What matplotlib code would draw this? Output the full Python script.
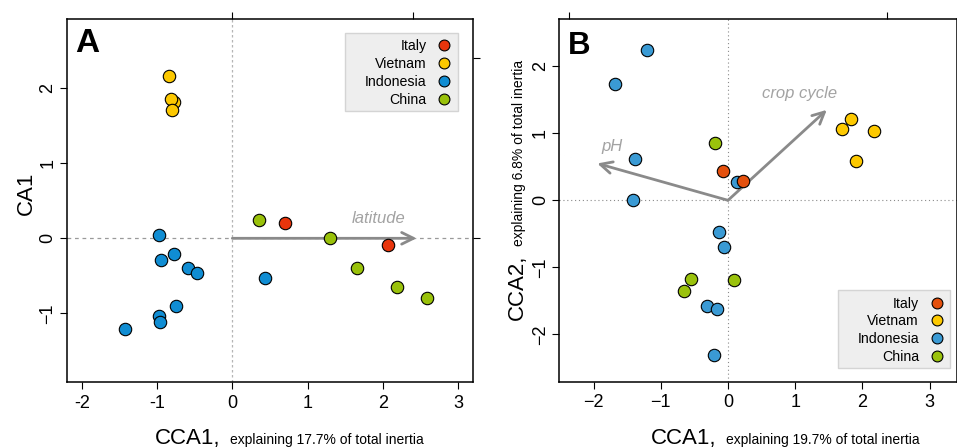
import matplotlib
matplotlib.use("Agg")
import matplotlib.pyplot as plt
from matplotlib.lines import Line2D
from matplotlib.patches import Rectangle

plt.rcParams['font.family'] = ['Liberation Sans', 'DejaVu Sans']

# ---------------- data ----------------
countries = ["Italy", "Vietnam", "Indonesia", "China"]

# Panel A (CCA1 vs CA1)
A_italy_x = [0.70, 2.07]
A_italy_y = [0.21, -0.09]
A_vietnam_x = [-0.84, -0.78, -0.81, -0.80]
A_vietnam_y = [2.17, 1.82, 1.86, 1.71]
A_indonesia_x = [-0.98, -0.95, -0.78, -0.59, -0.47, -0.75, -0.98, -0.96, -1.43, 0.44]
A_indonesia_y = [0.05, -0.29, -0.21, -0.40, -0.46, -0.90, -1.04, -1.11, -1.21, -0.53]
A_china_x = [0.36, 1.30, 1.66, 2.19, 2.59]
A_china_y = [0.24, 0.00, -0.40, -0.65, -0.79]
A_arrow_names = ["latitude"]
A_arrow_x = [2.45]
A_arrow_y = [0.0]

# Panel B (CCA1 vs CCA2)
B_italy_x = [-0.075, 0.22]
B_italy_y = [0.44, 0.29]
B_vietnam_x = [1.83, 1.70, 2.17, 1.905]
B_vietnam_y = [1.22, 1.07, 1.04, 0.59]
B_indonesia_x = [-1.21, -1.68, -1.39, -1.42, 0.14, -0.13, -0.055, -0.31, -0.16, -0.21]
B_indonesia_y = [2.24, 1.74, 0.62, 0.01, 0.27, -0.47, -0.70, -1.58, -1.62, -2.31]
B_china_x = [-0.20, -0.555, -0.65, 0.09]
B_china_y = [0.855, -1.17, -1.36, -1.19]
B_arrow_names = ["crop cycle", "pH"]
B_arrow_x = [1.47, -1.945]
B_arrow_y = [1.35, 0.55]

A_xticks = [-2, -1, 0, 1, 2, 3]
A_xticklabels = ["-2", "-1", "0", "1", "2", "3"]
A_yticks = [-1, 0, 1, 2]
A_yticklabels = ["\u22121", "0", "1", "2"]
B_xticks = [-2, -1, 0, 1, 2, 3]
B_xticklabels = ["\u22122", "\u22121", "0", "1", "2", "3"]
B_yticks = [-2, -1, 0, 1, 2]
B_yticklabels = ["\u22122", "\u22121", "0", "1", "2"]

# ---------------- style ----------------
colA = {"Italy": "#e8350c", "Vietnam": "#fcc800", "Indonesia": "#108dd3", "China": "#99c10a"}
colB = {"Italy": "#e4500d", "Vietnam": "#fdc900", "Indonesia": "#3a9ad4", "China": "#9ac20c"}
arrow_col = "#8a8a8a"
arrow_txt_col = "#a3a3a3"

W, H = 957, 448
fig = plt.figure(figsize=(W / 100, H / 100), dpi=100)

def px_axes(l, t, r, b):
    return fig.add_axes([l / W, 1 - b / H, (r - l) / W, (b - t) / H])

axA = px_axes(67, 19, 473, 382)
axB = px_axes(559.3, 19, 956.5, 381.7)

axA.set_xlim(-2.198, 3.20)
axA.set_ylim(-1.916, 2.924)
axB.set_xlim(-2.51, 3.40)
axB.set_ylim(-2.707, 2.706)

for ax in (axA, axB):
    for s in ax.spines.values():
        s.set_linewidth(1.1)
        s.set_color("black")
    ax.tick_params(direction="out", length=5, width=0.8, labelsize=13, colors="black")
    ax.tick_params(axis="x", pad=4)
    ax.tick_params(axis="y", pad=2.5, labelrotation=90)

axA.set_xticks(A_xticks)
axA.set_xticklabels(A_xticklabels)
axA.set_yticks(A_yticks)
axA.set_yticklabels(A_yticklabels)
axB.set_xticks(B_xticks)
axB.set_xticklabels(B_xticklabels)
axB.set_yticks(B_yticks)
axB.set_yticklabels(B_yticklabels)
for ax in (axA, axB):
    for t in ax.get_yticklabels():
        t.set_va("center")

# zero lines
axA.axhline(0, color="#9a9a9a", lw=0.9, ls=(0, (3, 3)), zorder=1)
axA.axvline(0, color="#b5b5b5", lw=0.9, ls=(0, (2, 2)), zorder=1)
axB.axhline(0, color="#8a8a8a", lw=0.8, ls=(0, (1, 2.5)), zorder=1)
axB.axvline(0, color="#8a8a8a", lw=0.8, ls=(0, (1, 2.5)), zorder=1)

# secondary (biplot arrow scale) ticks
secA_x = axA.secondary_xaxis("top", functions=(lambda v: v / 2.4, lambda v: v * 2.4))
secA_x.set_xticks([0, 1])
secA_y = axA.secondary_yaxis("right", functions=(lambda v: v / 2.4, lambda v: v * 2.4))
secA_y.set_yticks([0, 1])
secB_x = axB.secondary_xaxis("top", functions=(lambda v: v / 2.36, lambda v: v * 2.36))
secB_x.set_xticks([-1, 1])
for sec in (secA_x, secA_y, secB_x):
    for s in sec.spines.values():
        s.set_visible(False)
    sec.tick_params(direction="out", length=5, width=0.8, labelsize=0,
                    labeltop=False, labelright=False, labelbottom=False, labelleft=False)

# arrows
def draw_arrows(ax, names, xs, ys, label_pos):
    for name, x, y, (lx, ly) in zip(names, xs, ys, label_pos):
        ax.annotate("", xy=(x, y), xytext=(0, 0),
                    arrowprops=dict(arrowstyle="->,head_length=0.85,head_width=0.42",
                                    lw=2.0, color=arrow_col, shrinkA=0, shrinkB=0,
                                    mutation_scale=10),
                    zorder=2)
        ax.text(lx, ly, name, color=arrow_txt_col, fontsize=12, style="italic",
                ha="center", va="center", zorder=2)

draw_arrows(axA, A_arrow_names, A_arrow_x, A_arrow_y, [(1.94, 0.27)])
draw_arrows(axB, B_arrow_names, B_arrow_x, B_arrow_y, [(1.06, 1.59), (-1.72, 0.81)])

# points
def pts(ax, x, y, c):
    ax.scatter(x, y, s=80, c=c, edgecolors="black", linewidths=0.8, zorder=3)

pts(axA, A_indonesia_x, A_indonesia_y, colA["Indonesia"])
pts(axA, A_china_x, A_china_y, colA["China"])
pts(axA, A_vietnam_x, A_vietnam_y, colA["Vietnam"])
pts(axA, A_italy_x, A_italy_y, colA["Italy"])

pts(axB, B_indonesia_x, B_indonesia_y, colB["Indonesia"])
pts(axB, B_china_x, B_china_y, colB["China"])
pts(axB, B_vietnam_x, B_vietnam_y, colB["Vietnam"])
pts(axB, B_italy_x, B_italy_y, colB["Italy"])

# legends
def legend(ax, cols, box_px, anchor, ax_px):
    l, t, r, b = ax_px
    bl, bt, br, bb = box_px
    ax.add_patch(Rectangle(((bl - l) / (r - l), (b - bb) / (b - t)),
                           (br - bl) / (r - l), (bb - bt) / (b - t),
                           transform=ax.transAxes, facecolor="#eeeeee",
                           edgecolor="#d4d4d4", lw=1.0, zorder=4))
    handles = [Line2D([], [], ls="", marker="o", markersize=7.8,
                      markerfacecolor=cols[c], markeredgecolor="black",
                      markeredgewidth=0.8) for c in countries]
    leg = ax.legend(handles, countries, loc="upper right", bbox_to_anchor=anchor,
                    markerfirst=False, frameon=False, fontsize=10.2,
                    labelspacing=0.27, handlelength=1.0, handletextpad=0.75,
                    borderpad=0, borderaxespad=0)
    leg.set_zorder(5)

legend(axA, colA, (345, 32.7, 458.3, 111), (0.9466, 0.9444), (67, 19, 473, 382))
legend(axB, colB, (837.7, 290, 950, 368.3), (0.9678, 0.2349), (559.3, 19, 956.5, 381.7))

# panel letters
fig.text(75 / W, 1 - 52 / H, "A", fontsize=24, fontweight="bold", ha="left", va="baseline")
fig.text(568 / W, 1 - 54 / H, "B", fontsize=22.5, fontweight="bold", ha="left", va="baseline")

# axis labels
fig.text(155 / W, 1 - 444 / H, "CCA1,", fontsize=16, ha="left", va="baseline")
fig.text(230 / W, 1 - 444 / H, "explaining 17.7% of total inertia", fontsize=10,
         ha="left", va="baseline")
fig.text(651 / W, 1 - 444 / H, "CCA1,", fontsize=16, ha="left", va="baseline")
fig.text(726 / W, 1 - 444 / H, "explaining 19.7% of total inertia", fontsize=10,
         ha="left", va="baseline")

fig.text(31.7 / W, 1 - 215 / H, "CA1", fontsize=16, rotation=90, rotation_mode="anchor",
         ha="left", va="baseline")
fig.text(523 / W, 1 - 320 / H, "CCA2,", fontsize=16, rotation=90, rotation_mode="anchor",
         ha="left", va="baseline")
fig.text(523 / W, 1 - 246 / H, "explaining 6.8% of total inertia", fontsize=10, rotation=90,
         rotation_mode="anchor", ha="left", va="baseline")

fig.savefig("out.png", dpi=100)
